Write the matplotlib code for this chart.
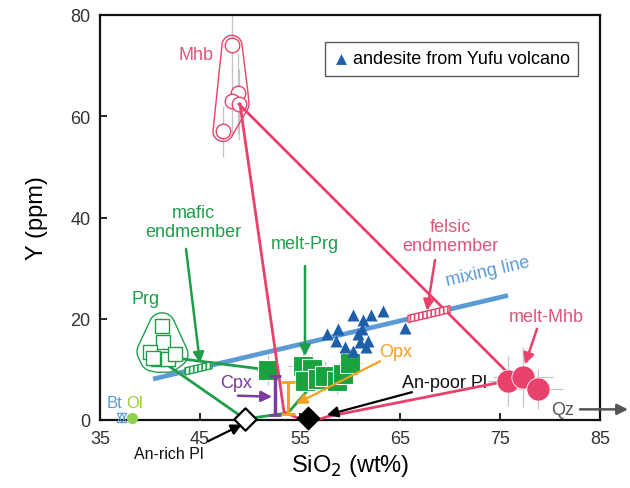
import numpy as np
import matplotlib
matplotlib.use("Agg")
import matplotlib.pyplot as plt
from matplotlib.patches import Polygon

plt.rcParams['font.family'] = ['Liberation Sans', 'DejaVu Sans']

# ---------------- data ----------------
# Mhb (open pink circles)
mhb_x = [48.2, 48.8, 48.2, 48.9, 47.3]
mhb_y = [74.0, 64.5, 63.0, 62.4, 57.0]
mhb_yerr = [6.0, 8.0, 7.0, 7.0, 5.0]
mhb_xerr = [0.3, 0.3, 0.3, 0.3, 0.3]

# melt-Mhb (filled pink circles)
mmhb_x = [75.8, 77.3, 78.8]
mmhb_y = [7.7, 8.5, 6.1]
mmhb_xerr = [2.0, 3.0, 2.5]
mmhb_yerr = [5.0, 6.0, 4.0]

# Prg (open green squares)
prg_x = [41.2, 41.3, 40.0, 40.8, 41.8, 40.3, 42.5]
prg_y = [18.6, 15.4, 13.5, 12.0, 12.0, 12.2, 13.0]

# melt-Prg (filled green squares)
mprg_x = [51.8, 55.3, 56.2, 55.5, 56.8, 57.5, 58.7, 59.3, 60.0]
mprg_y = [9.9, 10.7, 10.1, 7.7, 8.1, 8.7, 7.7, 9.1, 11.3]
mprg_xerr = [1.2, 1.5, 1.5, 1.2, 1.5, 1.5, 1.5, 1.5, 1.2]
mprg_yerr = [3.0, 3.5, 3.0, 2.5, 3.0, 3.0, 2.5, 3.0, 3.0]

# andesite from Yufu volcano (blue triangles)
and_x = [60.3, 61.3, 62.1, 63.3, 61.2, 57.7, 58.8, 58.6, 59.5, 60.3, 61.0, 61.8, 61.6, 65.5, 60.8]
and_y = [20.7, 19.7, 20.7, 21.6, 18.0, 17.0, 18.0, 15.7, 14.4, 13.7, 15.4, 15.7, 14.4, 18.2, 16.9]

# Plagioclase
anrich_x, anrich_y = [49.5], [0.2]
anpoor_x, anpoor_y = [55.8], [0.3]

# Cpx, Opx
cpx_x, cpx_y, cpx_err = [52.5], [4.8], [3.9]
opx_x, opx_y, opx_err = [53.8], [4.3], [3.2]

# Bt, Ol
bt_x, bt_y = [37.2], [0.4]
ol_x, ol_y = [38.2], [0.3]

# mixing line end points and endmember segments
mix_x = [40.3, 75.8]
mix_y = [8.1, 24.6]
mafic_range = [43.5, 46.2]
felsic_range = [65.8, 70.0]

# mass-balance lines
pink_line1_x = [48.9, 76.4]
pink_line1_y = [62.4, 8.1]
pink_line2_x = [49.0, 53.4, 55.0, 56.5, 57.8, 75.7]
pink_line2_y = [62.4, 1.6, 0.2, -0.1, 0.7, 7.7]
green_line1_x = [42.7, 51.8]
green_line1_y = [12.2, 9.9]
green_line2_x = [42.0, 49.5, 53.8, 55.6]
green_line2_y = [10.5, 0.2, 1.4, 5.5]

xticks = [35, 45, 55, 65, 75, 85]
yticks = [0, 20, 40, 60, 80]

# ---------------- colors ----------------
PINK = '#e8416b'
PINKT = '#e0557a'
GREEN = '#1f9e4a'
GREENF = '#19a23e'
BLUE = '#5b9bd5'
TRI = '#1f5ea8'
ORANGE = '#f4a020'
PURPLE = '#7b3d9f'
GRAY = '#c4c4c4'

fig = plt.figure(figsize=(6.3, 4.89), dpi=100)
ax = fig.add_axes([100/630, 68/489, 500/630, 405/489])
ax.set_xlim(35, 85)
ax.set_ylim(0, 80)


def hull_outline(xs, ys, r_px, **kw):
    pts = ax.transData.transform(np.column_stack([xs, ys]))
    th = np.linspace(0, 2*np.pi, 40, endpoint=False)
    allp = []
    for (px, py) in pts:
        for t in th:
            allp.append((px + r_px*np.cos(t), py + r_px*np.sin(t)))
    allp = sorted(set(allp))

    def cross(o, a, b):
        return (a[0]-o[0])*(b[1]-o[1]) - (a[1]-o[1])*(b[0]-o[0])
    lower, upper = [], []
    for p in allp:
        while len(lower) >= 2 and cross(lower[-2], lower[-1], p) <= 0:
            lower.pop()
        lower.append(p)
    for p in reversed(allp):
        while len(upper) >= 2 and cross(upper[-2], upper[-1], p) <= 0:
            upper.pop()
        upper.append(p)
    hull = np.array(lower[:-1] + upper[:-1])
    d = ax.transData.inverted().transform(hull)
    ax.add_patch(Polygon(d, closed=True, fill=False, **kw))


def band(xr, half, color, z):
    xa, xb = xr
    s = (mix_y[1]-mix_y[0])/(mix_x[1]-mix_x[0])
    ya = mix_y[0] + s*(xa-mix_x[0])
    yb = mix_y[0] + s*(xb-mix_x[0])
    poly = [(xa, ya-half), (xb, yb-half), (xb, yb+half), (xa, ya+half)]
    ax.add_patch(Polygon(poly, closed=True, facecolor='white', edgecolor=color,
                         hatch='||||', lw=1.0, zorder=z))

plt.rcParams['hatch.linewidth'] = 1.2

# error bars
ax.errorbar(mhb_x, mhb_y, yerr=mhb_yerr, xerr=mhb_xerr, fmt='none', ecolor=GRAY, elinewidth=0.9, zorder=1)
ax.errorbar(mmhb_x, mmhb_y, yerr=mmhb_yerr, xerr=mmhb_xerr, fmt='none', ecolor=GRAY, elinewidth=0.9, zorder=1)
ax.errorbar(mprg_x, mprg_y, yerr=mprg_yerr, xerr=mprg_xerr, fmt='none', ecolor=GRAY, elinewidth=0.9, zorder=1)
ax.errorbar(prg_x, prg_y, yerr=[1.5]*len(prg_x), xerr=[0.6]*len(prg_x), fmt='none', ecolor='#dddddd', elinewidth=0.8, zorder=1)

# mixing line
ax.plot(mix_x, mix_y, color=BLUE, lw=3.4, solid_capstyle='butt', zorder=2)

# outlines
hull_outline(mhb_x, mhb_y, 10, edgecolor=PINK, lw=1.0, zorder=3)
hull_outline(prg_x, prg_y, 13, edgecolor=GREEN, lw=1.0, zorder=3)

# mass balance lines
ax.plot(green_line1_x, green_line1_y, color=GREEN, lw=2.0, zorder=3)
ax.plot(green_line2_x, green_line2_y, color=GREEN, lw=2.0, zorder=3)

# markers
ax.scatter(mhb_x, mhb_y, s=110, facecolor='white', edgecolor=PINK, lw=1.0, zorder=4)
ax.scatter(prg_x, prg_y, s=100, marker='s', facecolor='white', edgecolor=GREEN, lw=1.0, zorder=4)
ax.scatter(mprg_x, mprg_y, s=190, marker='s', facecolor=GREENF, edgecolor='white', lw=0.8, zorder=4)
ax.scatter(and_x, and_y, s=75, marker='^', color=TRI, lw=0, zorder=5, label='andesite from Yufu volcano')
ax.scatter(mmhb_x, mmhb_y, s=280, color=PINK, edgecolor='white', lw=0.6, zorder=5)

# pink lines
ax.plot(pink_line1_x, pink_line1_y, color=PINK, lw=2.0, zorder=4.5)
ax.plot(pink_line2_x, pink_line2_y, color=PINK, lw=2.0, zorder=4.5)

# endmember bands
band(mafic_range, 0.7, GREEN, 6)
band(felsic_range, 0.7, PINK, 6)

# Cpx / Opx
ax.errorbar(cpx_x, cpx_y, yerr=cpx_err, fmt='none', ecolor=PURPLE, elinewidth=2.5, capsize=4, capthick=2.0, zorder=6)
ax.errorbar(opx_x, opx_y, yerr=opx_err, fmt='none', ecolor=ORANGE, elinewidth=2.2, capsize=5, capthick=2.0, zorder=6)

# plagioclase
ax.scatter(anrich_x, anrich_y, s=130, marker='D', facecolor='white', edgecolor='black', lw=1.6, zorder=7, clip_on=False)
ax.scatter(anpoor_x, anpoor_y, s=130, marker='D', facecolor='black', edgecolor='black', zorder=7, clip_on=False)

# Bt, Ol
ax.scatter(bt_x, bt_y, s=45, marker='^', facecolor='none', edgecolor=BLUE, lw=0.8, zorder=7, clip_on=False)
ax.scatter(bt_x, bt_y, s=45, marker='v', facecolor='none', edgecolor=BLUE, lw=0.8, zorder=7, clip_on=False)
ax.scatter(ol_x, ol_y, s=50, color='#8fd14f', zorder=7, clip_on=False)

# ---------------- annotations ----------------
FS = 13
def arrow(xy, xytext, color, lw=1.8):
    ax.annotate('', xy=xy, xytext=xytext,
                arrowprops=dict(arrowstyle='-|>', color=color, lw=lw,
                                mutation_scale=16, shrinkA=0, shrinkB=0),
                annotation_clip=False, zorder=8)

ax.text(44.6, 72.1, 'Mhb', color=PINKT, fontsize=FS, ha='center', va='center')
ax.text(44.3, 39.2, 'mafic\nendmember', color=GREEN, fontsize=FS, ha='center', va='center', linespacing=1.15)
arrow((45.0, 11.2), (43.6, 33.8), GREEN)
ax.text(55.5, 34.9, 'melt-Prg', color=GREEN, fontsize=FS, ha='center', va='center')
arrow((55.5, 12.6), (55.5, 30.4), GREEN)
ax.text(70.0, 36.3, 'felsic\nendmember', color=PINKT, fontsize=FS, ha='center', va='center', linespacing=1.15)
arrow((67.7, 21.6), (68.5, 31.6), PINK)
ax.text(73.8, 29.4, 'mixing line', color=BLUE, fontsize=FS, ha='center', va='center', rotation=13)
ax.text(39.6, 24.0, 'Prg', color=GREEN, fontsize=FS, ha='center', va='center')
ax.text(79.6, 20.4, 'melt-Mhb', color=PINKT, fontsize=FS, ha='center', va='center')
arrow((77.5, 11.0), (78.7, 18.0), PINK)
ax.text(64.6, 13.5, 'Opx', color=ORANGE, fontsize=FS, ha='center', va='center')
arrow((54.6, 3.2), (63.0, 11.6), ORANGE, lw=1.6)
ax.text(48.6, 7.5, 'Cpx', color=PURPLE, fontsize=FS, ha='center', va='center')
arrow((52.2, 4.6), (48.8, 4.8), PURPLE)
ax.text(69.5, 7.5, 'An-poor Pl', color='#111111', fontsize=FS, ha='center', va='center')
arrow((57.7, 1.0), (66.2, 5.5), 'black', lw=1.6)
ax.text(41.9, -6.6, 'An-rich Pl', color='#111111', fontsize=11.5, ha='center', va='center', clip_on=False)
arrow((49.2, -0.9), (45.8, -4.2), 'black', lw=1.6)
ax.text(81.3, 2.1, 'Qz', color='#555555', fontsize=FS, ha='center', va='center')
arrow((87.8, 2.1), (83.0, 2.1), '#555555', lw=1.8)
ax.text(36.45, 3.4, 'Bt', color=BLUE, fontsize=12, ha='center', va='center')
ax.text(38.45, 3.4, 'Ol', color='#9acd32', fontsize=12, ha='center', va='center')

# ---------------- axes ----------------
ax.set_xticks(xticks)
ax.set_yticks(yticks)
ax.tick_params(direction='in', length=5, width=1.2, labelsize=13, labelcolor='#333333', pad=7)
for sp in ax.spines.values():
    sp.set_linewidth(1.6)
    sp.set_color('#111111')
ax.set_xlabel('SiO$_2$ (wt%)', fontsize=17, labelpad=4)
ax.set_ylabel('Y (ppm)', fontsize=17, labelpad=16)

leg = ax.legend(loc='upper right', bbox_to_anchor=(0.975, 0.955), fontsize=13,
                frameon=True, fancybox=False, handletextpad=0.3, handlelength=0.8,
                borderpad=0.45, markerscale=0.9)
leg.get_frame().set_edgecolor('#333333')
leg.get_frame().set_linewidth(1.0)

fig.savefig('out.png', dpi=100)
